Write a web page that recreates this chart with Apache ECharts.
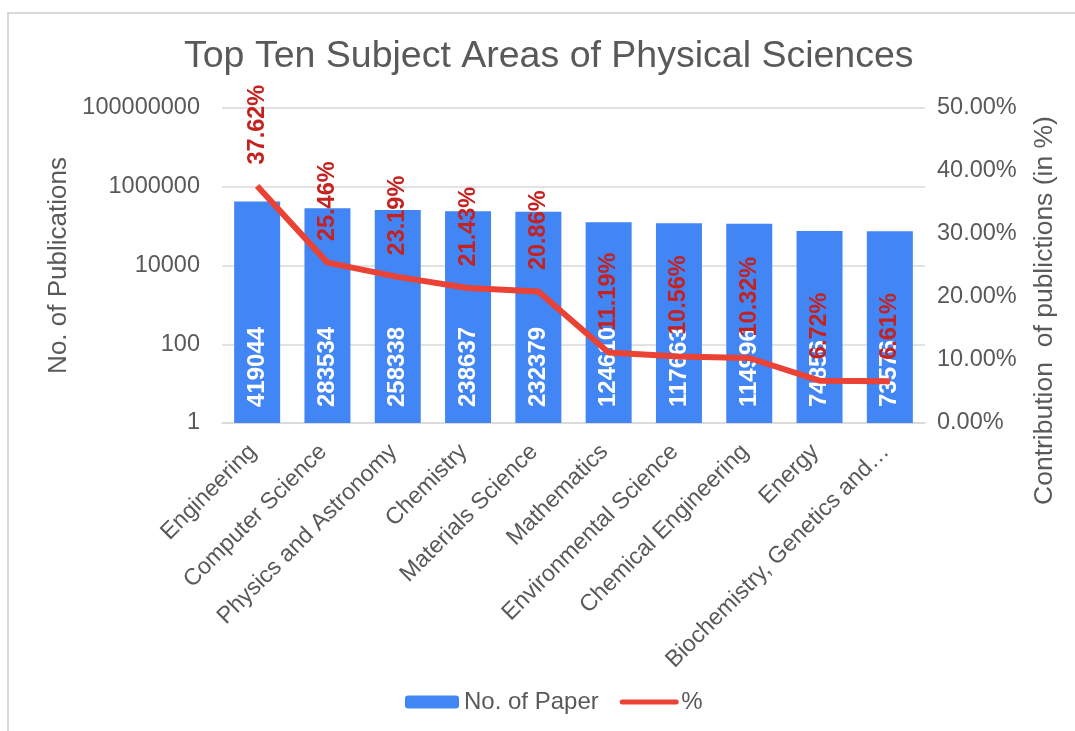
<!DOCTYPE html>
<html>
<head>
<meta charset="utf-8">
<script src="https://cdn.jsdelivr.net/npm/echarts@6/dist/echarts.min.js"></script>
<style>
  html, body { margin: 0; padding: 0; background: #fff; }
  #chart { width: 1075px; height: 731px; }
</style>
</head>
<body>
<div id="chart"></div>
<script>
// Subject areas and their publication counts / share
const subjects = [
  'Engineering', 'Computer Science', 'Physics and Astronomy', 'Chemistry',
  'Materials Science', 'Mathematics', 'Environmental Science',
  'Chemical Engineering', 'Energy', 'Biochemistry, Genetics and Molecular Biology'
];
const papers = [419044, 283534, 258338, 238637, 232379, 124610, 117663, 114996, 74856, 73576];
const shares = [37.62, 25.46, 23.19, 21.43, 20.86, 11.19, 10.56, 10.32, 6.72, 6.61];

const grey = '#595959';
const font = 'Liberation Sans, Arial, sans-serif';

const chart = echarts.init(document.getElementById('chart'));
chart.setOption({
  backgroundColor: '#fff',
  animation: false,
  textStyle: { fontFamily: font },
  graphic: [{
    type: 'rect',
    shape: { x: 8, y: 13, width: 1200, height: 900 },
    style: { fill: 'none', stroke: '#d9d9d9', lineWidth: 2 },
    silent: true
  }],
  title: {
    text: 'Top Ten Subject Areas of Physical Sciences',
    left: 179,
    top: 33,
    textStyle: { fontFamily: font, fontSize: 37.5, fontWeight: 'normal', color: grey }
  },
  legend: {
    bottom: 12,
    left: 400,
    itemWidth: 54,
    itemHeight: 13,
    itemGap: 21,
    textStyle: { fontFamily: font, fontSize: 24, color: grey },
    data: [
      { name: 'No. of Paper' },
      { name: '%', itemStyle: { opacity: 0 }, lineStyle: { width: 5, cap: 'round' } }
    ]
  },
  grid: { left: 222, right: 150, top: 108, bottom: 308 },
  xAxis: {
    type: 'category',
    data: subjects,
    axisLine: { show: true, lineStyle: { color: '#d9d9d9', width: 1.5 } },
    axisTick: { show: false },
    axisLabel: {
      rotate: 45,
      interval: 0,
      margin: 21,
      verticalAlign: 'middle',
      padding: [0, 6, 0, 0],
      color: grey,
      fontSize: 23.3,
      fontFamily: font,
      width: 318,
      overflow: 'truncate',
      ellipsis: '…'
    }
  },
  yAxis: [{
    type: 'log',
    logBase: 100,
    min: 1,
    max: 100000000,
    name: 'No. of Publications',
    nameLocation: 'middle',
    nameRotate: 90,
    nameGap: 150,
    nameTextStyle: { fontFamily: font, fontSize: 26, color: grey },
    axisLine: { show: false },
    axisTick: { show: false },
    axisLabel: {
      margin: 22,
      color: grey,
      fontSize: 23.5,
      fontFamily: font,
      formatter: v => String(Math.round(v))
    },
    splitLine: { show: true, lineStyle: { color: '#d9d9d9', width: 1.5 } }
  }, {
    type: 'value',
    min: 0,
    max: 50,
    interval: 10,
    position: 'right',
    name: 'Contribution  of publictions (in %)',
    nameLocation: 'middle',
    nameRotate: 90,
    nameGap: 106,
    nameTextStyle: { fontFamily: font, fontSize: 26.5, color: grey, padding: [0, 90, 0, 0] },
    axisLine: { show: false },
    axisTick: { show: false },
    axisLabel: {
      margin: 12,
      color: grey,
      fontSize: 23.5,
      fontFamily: font,
      formatter: v => v.toFixed(2) + '%'
    },
    splitLine: { show: false }
  }],
  series: [{
    name: 'No. of Paper',
    type: 'bar',
    data: papers,
    barWidth: 46,
    itemStyle: { color: '#4285F4' },
    label: {
      show: true,
      position: 'insideBottom',
      distance: 16,
      rotate: 90,
      align: 'left',
      verticalAlign: 'middle',
      color: '#fff',
      fontWeight: 'bold',
      fontSize: 24,
      fontFamily: font
    }
  }, {
    name: '%',
    type: 'line',
    yAxisIndex: 1,
    data: shares,
    symbol: 'circle',
    symbolSize: 1,
    lineStyle: { color: '#EA4335', width: 6 },
    itemStyle: { color: '#EA4335' },
    z: 3,
    label: {
      show: true,
      position: 'top',
      distance: 21,
      rotate: 90,
      align: 'left',
      verticalAlign: 'middle',
      color: '#C5221F',
      fontWeight: 'bold',
      fontSize: 23.5,
      fontFamily: font,
      formatter: p => p.value.toFixed(2) + '%'
    }
  }]
});
</script>
</body>
</html>
